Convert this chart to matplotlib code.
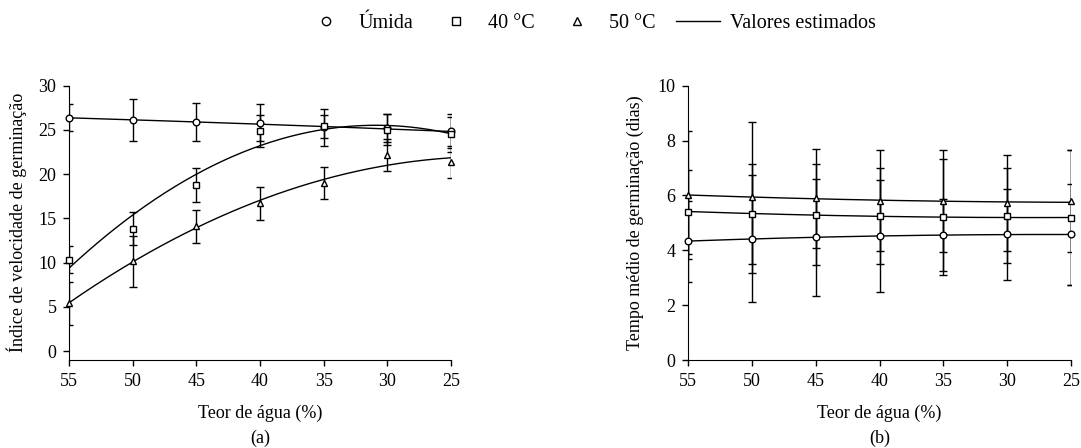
import numpy as np
import matplotlib.pyplot as plt
from matplotlib.lines import Line2D

plt.rcParams['font.family'] = ['Liberation Serif', 'DejaVu Serif']
plt.rcParams['font.size'] = 13

# Teor de água (%)
teor = np.array([55, 50, 45, 40, 35, 30, 25])

# (a) Índice de velocidade de germinação - médias e desvios
ivg_umida = np.array([26.4, 26.1, 25.9, 25.8, 25.3, 25.2, 24.9])
ivg_umida_err = np.array([1.5, 2.35, 2.15, 2.1, 2.1, 1.6, 1.9])
ivg_40 = np.array([10.35, 13.85, 18.8, 24.9, 25.4, 25.0, 24.5])
ivg_40_err = np.array([1.55, 1.85, 1.9, 1.8, 1.3, 1.75, 2.0])
ivg_50 = np.array([5.4, 10.15, 14.1, 16.7, 19.0, 22.2, 21.4])
ivg_50_err = np.array([2.45, 2.85, 1.85, 1.85, 1.85, 1.8, 1.8])

# (a) valores estimados
ivg_umida_est = np.array([26.4, 26.1, 25.9, 25.65, 25.4, 25.15, 24.8])
ivg_40_est = np.array([9.3, 15.5, 20.0, 23.2, 25.0, 25.5, 24.6])
ivg_50_est = np.array([5.4, 10.1, 14.1, 17.0, 19.3, 21.0, 21.9])

# (b) Tempo médio de germinação - médias e desvios
tmg_umida = np.array([4.33, 4.42, 4.48, 4.52, 4.56, 4.58, 4.58])
tmg_umida_err = np.array([1.47, 2.32, 2.13, 2.05, 1.30, 1.65, 1.83])
tmg_40 = np.array([5.39, 5.33, 5.30, 5.25, 5.21, 5.26, 5.19])
tmg_40_err = np.array([1.53, 1.83, 1.84, 1.76, 2.12, 1.74, 2.45])
tmg_50 = np.array([6.02, 5.93, 5.90, 5.81, 5.79, 5.72, 5.79])
tmg_50_err = np.array([2.34, 2.75, 1.80, 1.83, 1.85, 1.74, 1.85])

# (b) valores estimados
tmg_umida_est = np.array([4.33, 4.42, 4.48, 4.52, 4.55, 4.57, 4.58])
tmg_40_est = np.array([5.42, 5.33, 5.28, 5.24, 5.21, 5.20, 5.19])
tmg_50_est = np.array([6.02, 5.93, 5.88, 5.83, 5.79, 5.76, 5.75])

markers = ['o', 's', '^']
x_fit = np.linspace(55, 25, 200)


def draw_panel(ax, means, errs, ests):
    for m, e, est, mk in zip(means, errs, ests, markers):
        ax.errorbar(teor, m, yerr=e, fmt='none', ecolor='black',
                    elinewidth=1, capsize=2.8, capthick=1, zorder=2)
        coef = np.polyfit(teor, est, 2)
        ax.plot(x_fit, np.polyval(coef, x_fit), color='black', lw=1, zorder=3)
        ax.plot(teor, m, linestyle='none', marker=mk, markersize=4.8,
                markerfacecolor='white', markeredgecolor='black',
                markeredgewidth=1, zorder=4, clip_on=False)
    ax.set_xlim(55, 25)
    ax.set_xticks(teor)
    ax.spines['top'].set_visible(False)
    ax.spines['right'].set_visible(False)
    ax.tick_params(direction='out', length=4, width=1, labelsize=13, pad=5)
    ax.set_xlabel('Teor de água (%)', fontsize=13, labelpad=11)


fig = plt.figure(figsize=(10.81, 4.48), dpi=100)
ax1 = fig.add_axes([0.0638, 0.1964, 0.3534, 0.6123])
ax2 = fig.add_axes([0.6365, 0.1964, 0.3543, 0.6123])

draw_panel(ax1, [ivg_umida, ivg_40, ivg_50],
           [ivg_umida_err, ivg_40_err, ivg_50_err],
           [ivg_umida_est, ivg_40_est, ivg_50_est])
ax1.set_ylim(-1, 30)
ax1.set_yticks(np.arange(0, 31, 5))
ax1.set_ylabel('Índice de velocidade de germinação', fontsize=13, labelpad=8)

draw_panel(ax2, [tmg_umida, tmg_40, tmg_50],
           [tmg_umida_err, tmg_40_err, tmg_50_err],
           [tmg_umida_est, tmg_40_est, tmg_50_est])
ax2.set_ylim(0, 10)
ax2.set_yticks(np.arange(0, 11, 2))
ax2.set_ylabel('Tempo médio de germinação (dias)', fontsize=13, labelpad=10)

fig.text(0.241, 0.012, '(a)', ha='center', fontsize=13)
fig.text(0.8135, 0.012, '(b)', ha='center', fontsize=13)

handles = [
    Line2D([], [], ls='none', marker='o', mfc='white', mec='black', ms=6),
    Line2D([], [], ls='none', marker='s', mfc='white', mec='black', ms=6),
    Line2D([], [], ls='none', marker='^', mfc='white', mec='black', ms=6),
    Line2D([], [], color='black', lw=1),
]
labels = ['Úmida', '40 °C', '50 °C', 'Valores estimados']
fig.legend(handles, labels, loc='center', bbox_to_anchor=(0.546, 0.948),
           ncol=4, frameon=False, fontsize=14.5, handlelength=2.2,
           columnspacing=1.0, handletextpad=0.5)

fig.savefig('out.png', dpi=100)
